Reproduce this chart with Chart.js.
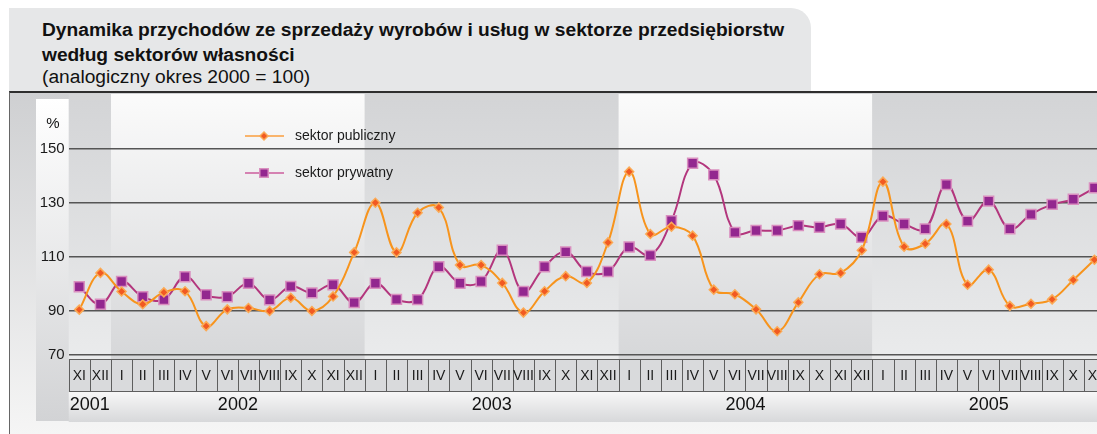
<!DOCTYPE html>
<html>
<head>
<meta charset="utf-8">
<script src="https://cdn.jsdelivr.net/npm/chart.js@4.4.1/dist/chart.umd.min.js"></script>
<style>
  body { margin: 0; background: #fff; font-family: "Liberation Sans", Arial, sans-serif; }
  #wrap { position: relative; width: 1097px; height: 434px; overflow: hidden; }
  #head { position: absolute; left: 9px; top: 8px; width: 802px; height: 84px; background: #e6e7e8; border-top-right-radius: 20px; }
  .line { position: absolute; left: 33px; line-height: 25px; font-size: 19.2px; color: #111; white-space: nowrap; }
  .bold { font-weight: bold; }
  #panel { position: absolute; left: 9px; top: 91px; width: 1087px; height: 341px; border-top: 2px solid #2e2e2e; border-left: 1px solid #666; background: linear-gradient(#cfd0d2, #f5f5f5); }
  #strip { position: absolute; left: 36px; top: 99px; width: 34px; height: 322px; background: linear-gradient(#ffffff, #d2d3d5); }
  #box { position: absolute; left: 0; top: 93px; width: 1110px; height: 341px; }
</style>
</head>
<body>
<div id="wrap">
  <div id="head">
    <div class="line bold" style="top:9px">Dynamika przychodów ze sprzedaży wyrobów i usług w sektorze przedsiębiorstw</div>
    <div class="line bold" style="top:34px">według sektorów własności</div>
    <div class="line" style="top:56px">(analogiczny okres 2000 = 100)</div>
  </div>
  <div id="panel"></div>
  <div id="strip"></div>
  <div id="box"><canvas id="chart" width="1110" height="341"></canvas></div>
</div>
<script>
const font = '"Liberation Sans", Arial, sans-serif';

// months from XI 2001 to XI 2005
const months = ['XI', 'XII',
  'I', 'II', 'III', 'IV', 'V', 'VI', 'VII', 'VIII', 'IX', 'X', 'XI', 'XII',
  'I', 'II', 'III', 'IV', 'V', 'VI', 'VII', 'VIII', 'IX', 'X', 'XI', 'XII',
  'I', 'II', 'III', 'IV', 'V', 'VI', 'VII', 'VIII', 'IX', 'X', 'XI', 'XII',
  'I', 'II', 'III', 'IV', 'V', 'VI', 'VII', 'VIII', 'IX', 'X', 'XI'];
const years = ['2001', '2002', '2003', '2004', '2005'];

const publiczny = [90.5, 104.1,
  97.2, 92.5, 96.9, 97.3, 84.4, 90.6, 91.1, 90.0, 94.9, 90.0, 95.4, 111.7,
  130.1, 111.7, 126.4, 128.3, 107.0, 107.0, 100.4, 89.4, 97.3, 102.9, 100.4, 115.4,
  141.6, 118.5, 121.2, 117.9, 97.9, 96.2, 90.6, 82.5, 93.2, 103.6, 104.1, 112.5,
  137.9, 113.8, 114.9, 122.2, 99.7, 105.3, 91.9, 92.7, 94.3, 101.5, 109.0];
const prywatny = [99.0, 92.5,
  100.9, 95.3, 94.2, 102.7, 96.0, 95.3, 100.3, 94.1, 99.1, 96.7, 99.7, 93.1,
  100.3, 94.3, 94.2, 106.4, 100.3, 100.9, 112.5, 97.2, 106.4, 111.9, 104.6, 104.6,
  113.7, 110.6, 123.4, 144.7, 140.4, 119.1, 119.8, 119.8, 121.6, 121.0, 122.2, 117.3,
  125.2, 122.2, 120.4, 136.8, 123.3, 130.7, 120.4, 125.8, 129.5, 131.4, 135.6];

const yTicks = [70, 90, 110, 130, 150];
const yBottom = 73.7; // base line of the original sits a bit above the "70" step
const yTop = 170;

// first month index of every year
const yearStarts = [0];
months.forEach((m, i) => { if (m === 'I') yearStarts.push(i); });

const legendY = [43, 80];

const decor = {
  id: 'decor',
  beforeDraw(chart) {
    const { ctx, chartArea: a, scales: { x } } = chart;
    const w = x.width / months.length;
    ctx.save();
    // year bands
    yearStarts.forEach((s, k) => {
      const e = k + 1 < yearStarts.length ? yearStarts[k + 1] : months.length;
      const x0 = x.getPixelForValue(s) - w / 2;
      const x1 = x.getPixelForValue(e - 1) + w / 2;
      const g = ctx.createLinearGradient(0, 0, 0, 266);
      if (k % 2 === 0) { g.addColorStop(0, '#d3d4d6'); g.addColorStop(1, '#eaebec'); }
      else { g.addColorStop(0, '#fbfbfb'); g.addColorStop(1, '#d6d7d9'); }
      ctx.fillStyle = g;
      ctx.fillRect(x0, 1, x1 - x0, 265);
    });
    // month cells
    ctx.lineWidth = 1;
    ctx.strokeStyle = '#5e5e5e';
    months.forEach((m, i) => {
      const x0 = Math.round(x.getPixelForValue(i) - w / 2) + 0.5;
      const x1 = Math.round(x.getPixelForValue(i) + w / 2) + 0.5;
      ctx.fillStyle = '#d9dadc';
      ctx.fillRect(x0, 266.5, x1 - x0, 32);
      ctx.strokeRect(x0, 266.5, x1 - x0, 32);
    });
    // year row
    const g2 = ctx.createLinearGradient(0, 299, 0, 329);
    g2.addColorStop(0, '#f7f7f7');
    g2.addColorStop(1, '#d7d8da');
    ctx.fillStyle = g2;
    ctx.fillRect(a.left, 299, chart.width - a.left, 30);
    ctx.restore();
  },
  afterDraw(chart) {
    const { ctx, scales: { x } } = chart;
    ctx.save();
    ctx.fillStyle = '#111';
    ctx.textAlign = 'center';
    ctx.textBaseline = 'middle';
    ctx.font = '18px ' + font;
    yearStarts.forEach((s, k) => {
      const e = k + 1 < yearStarts.length ? yearStarts[k + 1] : months.length;
      const cx = (x.getPixelForValue(s) + x.getPixelForValue(e - 1)) / 2;
      ctx.fillText(years[k], cx, 312);
    });
    ctx.font = '15px ' + font;
    ctx.fillText('%', 53, 31);

    // legend
    chart.data.datasets.forEach((ds, k) => {
      const y = legendY[k];
      ctx.strokeStyle = ds.legendLine;
      ctx.lineWidth = 2;
      ctx.beginPath();
      ctx.moveTo(245, y);
      ctx.lineTo(284, y);
      ctx.stroke();
      ctx.fillStyle = ds.pointBackgroundColor;
      ctx.strokeStyle = ds.pointBorderColor;
      ctx.lineWidth = ds.pointBorderWidth;
      Chart.helpers.drawPoint(ctx, { pointStyle: ds.pointStyle, radius: ds.legendRadius, rotation: 0, borderWidth: ds.pointBorderWidth }, 264, y);
      ctx.fillStyle = '#1a1a1a';
      ctx.textAlign = 'left';
      ctx.font = '14px ' + font;
      ctx.fillText(ds.label, 295, y);
    });
    ctx.restore();
  }
};

new Chart(document.getElementById('chart'), {
  type: 'line',
  data: {
    labels: months,
    datasets: [{
      label: 'sektor publiczny',
      data: publiczny,
      borderColor: '#f7941d',
      borderWidth: 2,
      tension: 0.4,
      pointStyle: 'rectRot',
      pointRadius: 4.5,
      pointBackgroundColor: '#f15a22',
      pointBorderColor: '#fbaa55',
      pointBorderWidth: 1.5,
      legendLine: '#f9b46c',
      legendRadius: 4
    }, {
      label: 'sektor prywatny',
      data: prywatny,
      borderColor: '#b3367d',
      borderWidth: 2,
      tension: 0.4,
      pointStyle: 'rect',
      pointRadius: 7,
      pointBackgroundColor: '#93278f',
      pointBorderColor: '#d98fbf',
      pointBorderWidth: 1.5,
      legendLine: '#d582b2',
      legendRadius: 6
    }]
  },
  options: {
    responsive: false,
    animation: false,
    devicePixelRatio: 1,
    layout: { autoPadding: false, padding: { top: 2, right: 5, left: 0, bottom: 0 } },
    plugins: { legend: { display: false }, tooltip: { enabled: false } },
    scales: {
      x: {
        offset: true,
        grid: { display: false, drawTicks: false },
        border: { display: false },
        ticks: { autoSkip: false, maxRotation: 0, minRotation: 0, padding: 13, color: '#1a1a1a', font: { size: 14, family: font } },
        afterFit(s) { s.height = 79; s.paddingLeft = 0; s.paddingRight = 0; }
      },
      y: {
        min: yBottom,
        max: yTop,
        afterBuildTicks(s) { s.ticks = yTicks.map(v => ({ value: v === 70 ? yBottom : v })); },
        grid: { color: '#555', lineWidth: 1.5, drawTicks: false },
        border: { display: false },
        ticks: { padding: 4, color: '#1a1a1a', font: { size: 15, family: font }, callback: (v, i) => yTicks[i] },
        afterFit(s) { s.width = 68.7; s.paddingTop = 0; s.paddingBottom = 0; }
      }
    }
  },
  plugins: [decor]
});
</script>
</body>
</html>
